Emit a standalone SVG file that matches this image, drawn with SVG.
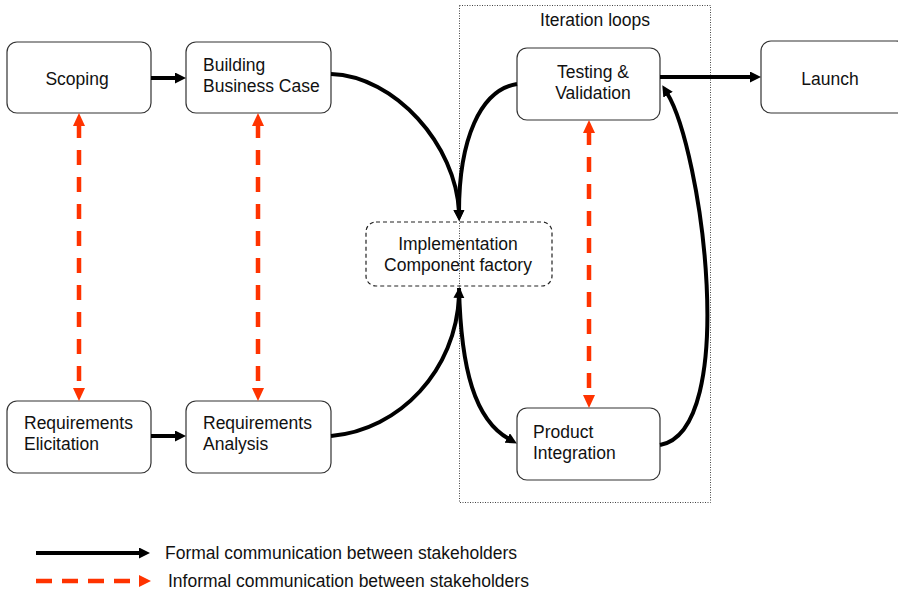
<svg xmlns="http://www.w3.org/2000/svg" width="898" height="592" viewBox="0 0 898 592">
<style>
  .box{fill:#fff;stroke:#333;stroke-width:1.2}
  .impl{fill:#fff;stroke:#222;stroke-width:1.2;stroke-dasharray:4 3}
  .iter{fill:none;stroke:#444;stroke-width:1;stroke-dasharray:1 1.5}
  text{font-family:"Liberation Sans",Arial,sans-serif;font-size:17.5px;fill:#111}
  .c{text-anchor:middle}
  .formal{fill:none;stroke:#000;stroke-width:4;marker-end:url(#ah)}
  .informal{fill:none;stroke:#ff3300;stroke-width:4.5;stroke-dasharray:15 12;stroke-dashoffset:3;marker-start:url(#rh);marker-end:url(#rh)}
</style>
<defs>
  <marker id="ah" markerUnits="userSpaceOnUse" markerWidth="12" markerHeight="12" refX="2" refY="5.5" orient="auto">
    <path d="M0,0 L11,5.5 L0,11 z" fill="#000"/>
  </marker>
  <marker id="rh" markerUnits="userSpaceOnUse" markerWidth="14" markerHeight="13" refX="0" refY="6" orient="auto-start-reverse">
    <path d="M0,0 L13,6 L0,12 z" fill="#ff3300"/>
  </marker>
</defs>

<g id="implementation">
  <rect class="impl" x="366" y="222" width="186" height="64" rx="10"/>
  <text class="c" x="458" y="250">Implementation</text>
  <text class="c" x="458" y="271">Component factory</text>
</g>
<g id="iteration-loops">
  <rect class="iter" x="459.5" y="5.5" width="251" height="497"/>
  <text class="c" x="595" y="26">Iteration loops</text>
</g>

<g id="scoping">
  <rect class="box" x="7" y="42" width="144" height="71" rx="10"/>
  <text class="c" x="77" y="85">Scoping</text>
</g>
<g id="business-case">
  <rect class="box" x="186" y="42" width="145" height="71" rx="10"/>
  <text x="203" y="71">Building</text>
  <text x="203" y="92">Business Case</text>
</g>
<g id="testing">
  <rect class="box" x="517" y="48" width="143" height="72" rx="10"/>
  <text class="c" x="593" y="78">Testing &amp;</text>
  <text class="c" x="593" y="99">Validation</text>
</g>
<g id="launch">
  <rect class="box" x="761" y="41" width="145" height="72" rx="10"/>
  <text class="c" x="830" y="85">Launch</text>
</g>
<g id="req-elicitation">
  <rect class="box" x="7" y="401" width="144" height="72" rx="10"/>
  <text x="24" y="429">Requirements</text>
  <text x="24" y="450">Elicitation</text>
</g>
<g id="req-analysis">
  <rect class="box" x="186" y="401" width="145" height="72" rx="10"/>
  <text x="203" y="429">Requirements</text>
  <text x="203" y="450">Analysis</text>
</g>
<g id="product-integration">
  <rect class="box" x="517" y="408" width="143" height="72" rx="10"/>
  <text x="533" y="438">Product</text>
  <text x="533" y="459">Integration</text>
</g>

<g id="connectors">
  <path class="formal" d="M151,78 L177,78"/>
  <path class="formal" d="M151,436 L177,436"/>
  <path class="formal" d="M660,77 L752,77"/>
  <path class="formal" d="M331,74 C395,76 456,145 459,212"/>
  <path class="formal" d="M517,84 C480,90 459,140 459,212"/>
  <path class="formal" d="M331,436 C400,430 456,370 459,296"/>
  <path class="formal" d="M459,288 C461,370 475,420 509,439"/>
  <path class="formal" d="M660,445 C740,430 702,150 667,93"/>
  <path class="informal" d="M79,126 L79,388"/>
  <path class="informal" d="M258,126 L258,388"/>
  <path class="informal" d="M589,133 L589,395"/>
</g>

<g id="legend">
  <path d="M36,553 L141,553" fill="none" stroke="#000" stroke-width="4" marker-end="url(#ah)"/>
  <text x="165" y="559">Formal communication between stakeholders</text>
  <path d="M36,581 L139,581" fill="none" stroke="#ff3300" stroke-width="4.5" stroke-dasharray="16 10"/>
  <path d="M139,575 L151,581 L139,587 z" fill="#ff3300"/>
  <text x="168" y="587">Informal communication between stakeholders</text>
</g>
</svg>
